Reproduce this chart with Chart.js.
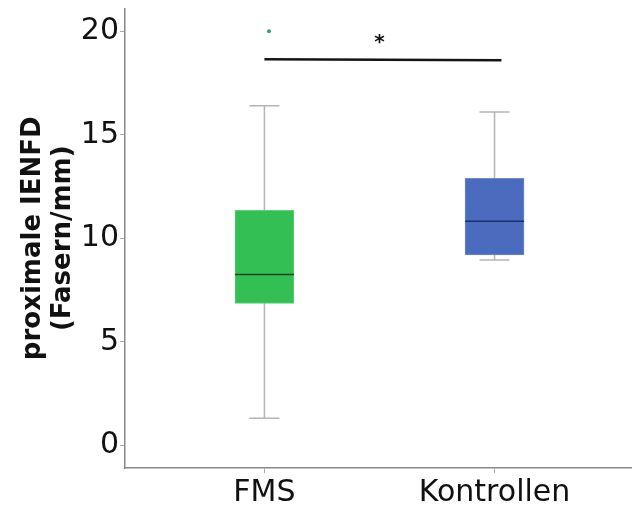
<!DOCTYPE html>
<html>
<head>
<meta charset="utf-8">
<script src="https://cdn.jsdelivr.net/npm/chart.js@4"></script>
<style>
  body { margin: 0; background: #fff; }
</style>
</head>
<body>
<canvas id="chart" width="635" height="506"></canvas>
<script>
// groups and box stats
const groups = ["FMS", "Kontrollen"];
const whiskerLow = [1.3, 8.95];
const q1 = [6.85, 9.2];
const median = [8.25, 10.82];
const q3 = [11.35, 12.9];
const whiskerHigh = [16.4, 16.1];
const boxColors = ["#34bf55", "#4a6bbe"];
const medianColors = ["#1c3f22", "#1f2f6e"];

const outliers = [{ x: 1.02, y: 20.0 }];
const yTicks = [0, 5, 10, 15, 20];

// significance bracket
const sigY = 18.65;
const sigFrom = 1;
const sigTo = 2.03;

// 📦 whiskers + medians
const boxExtras = {
  id: "boxExtras",
  beforeDatasetsDraw(chart) {
    const { ctx, scales: { x, y } } = chart;
    ctx.save();
    ctx.strokeStyle = "#b4b4b4";
    ctx.lineWidth = 1.5;
    groups.forEach((g, i) => {
      const cx = x.getPixelForValue(i + 1);
      const cap = 15;
      ctx.beginPath();
      ctx.moveTo(cx, y.getPixelForValue(whiskerLow[i]));
      ctx.lineTo(cx, y.getPixelForValue(whiskerHigh[i]));
      [whiskerLow[i], whiskerHigh[i]].forEach(v => {
        const py = y.getPixelForValue(v);
        ctx.moveTo(cx - cap, py);
        ctx.lineTo(cx + cap, py);
      });
      ctx.stroke();
    });
    ctx.restore();
  },
  afterDatasetsDraw(chart) {
    const { ctx, scales: { x, y } } = chart;
    ctx.save();
    ctx.lineWidth = 1.5;
    groups.forEach((g, i) => {
      const cx = x.getPixelForValue(i + 1);
      const py = y.getPixelForValue(median[i]);
      ctx.strokeStyle = medianColors[i];
      ctx.beginPath();
      ctx.moveTo(cx - 29.5, py);
      ctx.lineTo(cx + 29.5, py);
      ctx.stroke();
    });
    // asterisk
    ctx.fillStyle = "#111";
    ctx.font = "bold 20px 'DejaVu Sans'";
    ctx.textAlign = "center";
    ctx.textBaseline = "middle";
    ctx.fillText("*", x.getPixelForValue(1.5), y.getPixelForValue(19.45));
    ctx.restore();
  }
};

new Chart(document.getElementById("chart"), {
  type: "bar",
  data: {
    datasets: [
      {
        type: "bar",
        data: groups.map((g, i) => ({ x: i + 1, y: [q1[i], q3[i]] })),
        backgroundColor: boxColors,
        borderColor: ["#5fcf7a", "#6f89cc"],
        borderWidth: 1,
        borderSkipped: false,
        barThickness: 59
      },
      {
        type: "scatter",
        data: outliers,
        pointRadius: 2,
        pointBackgroundColor: "#3f9a78",
        pointBorderWidth: 0
      },
      {
        type: "line",
        data: [{ x: sigFrom, y: sigY }, { x: sigTo, y: sigY - 0.05 }],
        borderColor: "#151515",
        borderWidth: 2.5,
        pointRadius: 0
      }
    ]
  },
  options: {
    responsive: false,
    animation: false,
    layout: { padding: { top: 8, right: 4, left: 18, bottom: -7 } },
    plugins: { legend: { display: false }, tooltip: { enabled: false } },
    scales: {
      x: {
        type: "linear",
        min: 0.394,
        max: 2.593,
        offset: false,
        afterBuildTicks: s => { s.ticks = [{ value: 1 }, { value: 2 }]; },
        ticks: {
          callback: v => groups[v - 1],
          color: "#111",
          font: { family: "'DejaVu Sans'", size: 30 },
          padding: 2
        },
        grid: { drawOnChartArea: false, tickLength: 5, color: "#aaa", offset: false },
        border: { color: "#888", width: 1.5 }
      },
      y: {
        min: -1.1,
        max: 21.1,
        afterBuildTicks: s => { s.ticks = yTicks.map(v => ({ value: v })); },
        ticks: {
          color: "#111",
          font: { family: "'DejaVu Sans'", size: 30, lineHeight: 0.5 },
          padding: 1
        },
        grid: { drawOnChartArea: false, tickLength: 5, color: "#aaa" },
        border: { color: "#888", width: 1.5 },
        title: {
          display: true,
          text: ["proximale IENFD", "(Fasern/mm)"],
          color: "#111",
          font: { family: "'DejaVu Sans'", size: 26, weight: "bold", lineHeight: 1.15 },
          padding: { top: 0, bottom: 2 }
        }
      }
    }
  },
  plugins: [boxExtras]
});
</script>
</body>
</html>
